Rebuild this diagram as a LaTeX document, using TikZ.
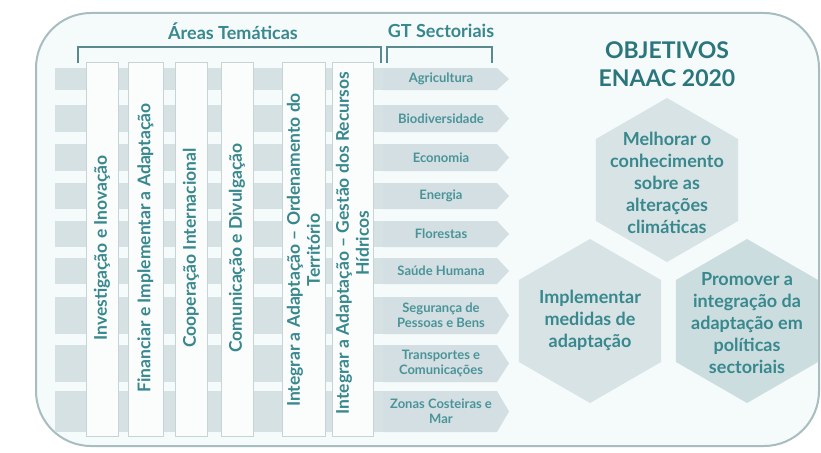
\documentclass[tikz,border=0pt]{standalone}
\usepackage{fontspec}
\setmainfont{Lato}
\usepackage{tikz}
\usetikzlibrary{calc}
\definecolor{myteal}{RGB}{56,136,142}
\definecolor{mydark}{RGB}{42,118,124}
\definecolor{mylight}{RGB}{74,148,153}
\definecolor{myframe}{RGB}{168,189,191}
\definecolor{mybg}{RGB}{245,250,250}
\definecolor{mystripe}{RGB}{214,225,228}
\definecolor{myarrow}{RGB}{211,223,226}
\definecolor{myhex}{RGB}{215,227,229}
\definecolor{myhexdark}{RGB}{203,221,223}
\definecolor{mybracket}{RGB}{88,138,143}
\definecolor{mycol}{RGB}{251,253,253}
\definecolor{mycolline}{RGB}{198,212,214}
\tikzset{
  coltext/.style = {rotate=90, align=center, text=myteal, font=\fontsize{17.5}{20}\selectfont\bfseries},
  gttext/.style = {align=center, text=mylight, font=\fontsize{13}{15}\selectfont\bfseries},
  head/.style = {text=myteal, font=\fontsize{18}{21}\selectfont\bfseries},
  hextext/.style = {align=center, text=myteal, font=\fontsize{18}{22}\selectfont\bfseries},
  hexa/.style = {fill=myhex}
}

\begin{document}
\begin{tikzpicture}[x=1pt, y=-1pt]
\useasboundingbox (0,0) rectangle (821,452);
% frame
\draw[myframe, line width=2pt, fill=mybg, rounded corners=55pt] (36,13) rectangle (819,446);

% rows behind the columns
\foreach \t/\b in {68/90, 105/132, 144/171, 183/209, 221/247, 258/284, 297/334, 345/382, 391/432}
  \fill[mystripe] (55,\t) rectangle (383,\b);

% columns
\foreach \l/\r in {86/118, 128/163, 175/207, 221/253, 282/325, 332/373}
  \draw[mycolline, fill=mycol] (\l,62) rectangle (\r,436);

\node[coltext] (at1) at (102,248) {Investigação e Inovação};
\node[coltext] (at2) at (145.5,248) {Financiar e Implementar a Adaptação};
\node[coltext] (at3) at (191,248) {Cooperação Internacional};
\node[coltext] (at4) at (237,248) {Comunicação e Divulgação};
\node[coltext] (at5) at (303.5,250) {Integrar a Adaptação -- Ordenamento do\\Território};
\node[coltext] (at6) at (352.5,243) {Integrar a Adaptação -- Gestão dos Recursos\\Hídricos};

% brackets and titles
\draw[mybracket, line width=2.5pt] (78,63) -- (78,47) -- (381,47) -- (381,63);
\draw[mybracket, line width=2.5pt] (387,63) -- (387,47) -- (492,47) -- (492,63);
\node[head] (areas) at (233,31) {Áreas Temáticas};
\node[head] (gt) at (441,31) {GT Sectoriais};

% GT arrows
\foreach \t/\b/\txt [count=\i] in {68/90/Agricultura, 105/132/Biodiversidade, 144/171/Economia,
    183/209/Energia, 221/247/Florestas, 258/284/Saúde Humana, 297/334/{Segurança de\\Pessoas e Bens},
    345/382/{Transportes e\\Comunicações}, 391/432/{Zonas Costeiras e\\Mar}} {
  \fill[myarrow] (383,\t) -- (497,\t) -- (509,{(\t+\b)/2}) -- (497,\b) -- (383,\b) -- cycle;
  \node[gttext] (gt\i) at (441,{(\t+\b)/2}) {\txt};
}

% objectives
\node[text=mydark, align=center, font=\fontsize{23}{28}\selectfont\bfseries] (obj) at (667,64) {OBJETIVOS\\ENAAC 2020};

\fill[hexa] (667,180) +(90:82) -- +(150:82) -- +(210:82) -- +(270:82) -- +(330:82) -- +(30:82) -- cycle;
\fill[hexa] (590,321) +(90:82) -- +(150:82) -- +(210:82) -- +(270:82) -- +(330:82) -- +(30:82) -- cycle;
\fill[hexa, fill=myhexdark] (747,321) +(90:82) -- +(150:82) -- +(210:82) -- +(270:82) -- +(330:82) -- +(30:82) -- cycle;
\node[hextext] (ob1) at (667,183) {Melhorar o\\conhecimento\\sobre as\\alterações\\climáticas};
\node[hextext] (ob2) at (590,320) {Implementar\\medidas de\\adaptação};
\node[hextext] (ob3) at (747,323) {Promover a\\integração da\\adaptação em\\políticas\\sectoriais};
\end{tikzpicture}
\end{document}
